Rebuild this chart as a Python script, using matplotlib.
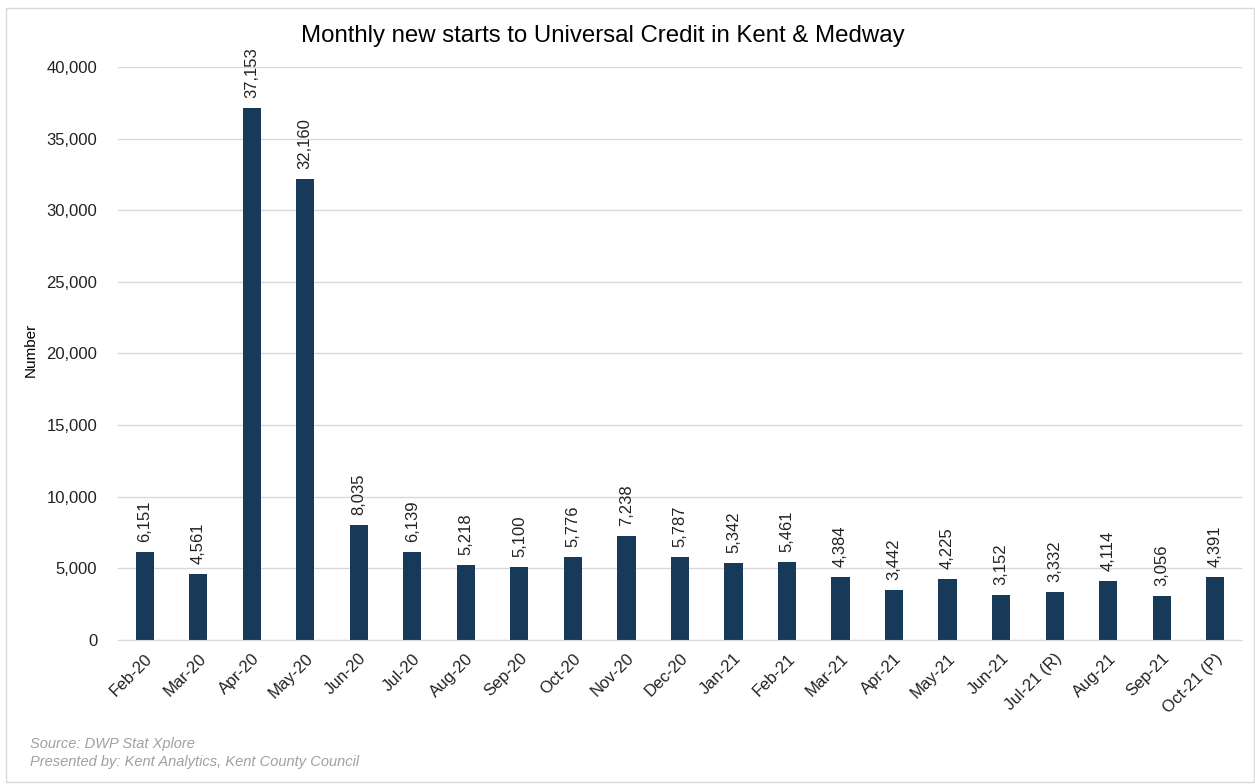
import matplotlib.pyplot as plt
from matplotlib.patches import Rectangle
from matplotlib.ticker import FuncFormatter

plt.rcParams['font.family'] = ['Liberation Sans', 'DejaVu Sans']

months = ['Feb-20', 'Mar-20', 'Apr-20', 'May-20', 'Jun-20', 'Jul-20', 'Aug-20',
          'Sep-20', 'Oct-20', 'Nov-20', 'Dec-20', 'Jan-21', 'Feb-21', 'Mar-21',
          'Apr-21', 'May-21', 'Jun-21', 'Jul-21 (R)', 'Aug-21', 'Sep-21', 'Oct-21 (P)']
starts = [6151, 4561, 37153, 32160, 8035, 6139, 5218, 5100, 5776, 7238, 5787,
          5342, 5461, 4384, 3442, 4225, 3152, 3332, 4114, 3056, 4391]

fig = plt.figure(figsize=(12.55, 7.84), dpi=100)
ax = fig.add_axes([0.094, 0.184, 0.8956, 0.7305])

x = range(len(months))
ax.bar(x, starts, width=0.34, color='#173a58')

# value labels above each bar
for xi, v in zip(x, starts):
    ax.text(xi, v + 700, f'{v:,}', rotation=90, ha='center', va='bottom',
            fontsize=12, color='#222222')

ax.set_xlim(-0.5, len(months) - 0.5)
ax.set_ylim(0, 40000)
ax.set_yticks(range(0, 40001, 5000))
ax.yaxis.set_major_formatter(FuncFormatter(lambda v, p: f'{int(v):,}'))
ax.set_xticks(list(x))
ax.set_xticklabels(months, rotation=45, ha='right', rotation_mode='anchor')
ax.tick_params(axis='both', length=0, labelsize=12, colors='#222222')
ax.tick_params(axis='x', pad=8)
ax.tick_params(axis='y', pad=15)

ax.grid(axis='y', color='#d9d9d9', linewidth=1)
ax.set_axisbelow(True)
for side in ['top', 'right', 'left']:
    ax.spines[side].set_visible(False)
ax.spines['bottom'].set_color('#d9d9d9')

ax.set_ylabel('Number', fontsize=11)
ax.yaxis.set_label_coords(-0.071, 0.506)
fig.text(0.48, 0.954, 'Monthly new starts to Universal Credit in Kent & Medway',
         ha='center', va='center', fontsize=17.3)

fig.text(0.024, 0.051, 'Source: DWP Stat Xplore', fontsize=10.5,
         style='italic', color='#a0a0a0', va='center')
fig.text(0.024, 0.028, 'Presented by: Kent Analytics, Kent County Council',
         fontsize=10.5, style='italic', color='#a0a0a0', va='center')

fig.patches.append(Rectangle((0.005, 0.002), 0.994, 0.988, transform=fig.transFigure,
                             fill=False, edgecolor='#d9d9d9', linewidth=1))

fig.savefig('out.png', dpi=100)
